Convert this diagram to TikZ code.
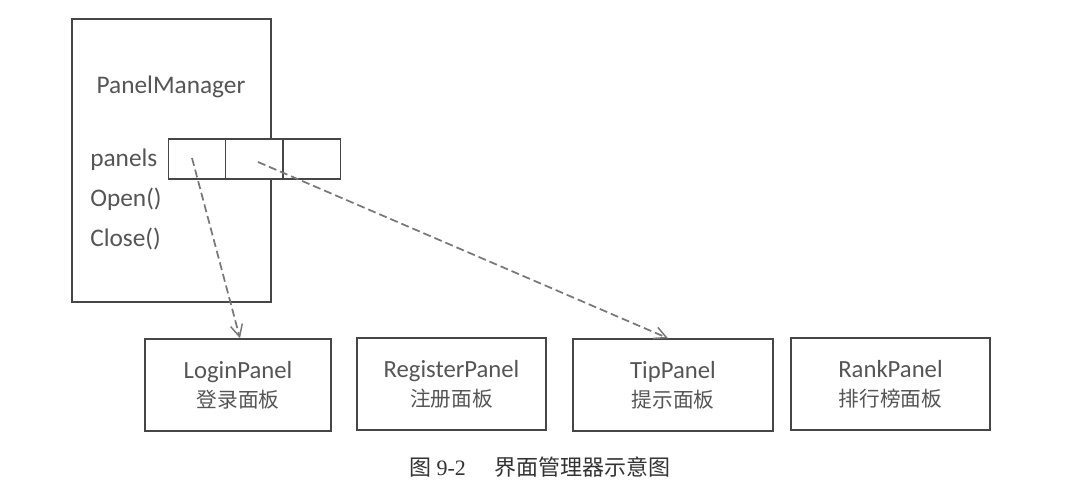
\documentclass[tikz,border=0pt]{standalone}
\usepackage{fontspec}
\setmainfont{Carlito}
\newfontfamily\cjk{Noto Sans CJK SC}
\newfontfamily\capfont{Liberation Serif}
\usetikzlibrary{arrows.meta}
\definecolor{txt}{RGB}{85,85,85}
\definecolor{ln}{RGB}{70,70,70}
\definecolor{dsh}{RGB}{120,120,120}
\begin{document}
\begin{tikzpicture}[x=0.75pt,y=-0.75pt,
  box/.style={draw=ln,line width=1.1pt,inner sep=0pt},
  cell/.style={draw=ln,line width=1.1pt,minimum width=57.3*0.75pt,minimum height=40*0.75pt,inner sep=0pt},
  lbl/.style={text=txt,font=\fontsize{19}{21}\selectfont,inner sep=0pt},
  panel/.style={draw=ln,line width=1.1pt,minimum height=92*0.75pt,text=txt,align=center,inner sep=0pt,
     font=\fontsize{18.5}{24}\selectfont},
  ref/.style={draw=dsh,line width=1.3pt,dash pattern=on 6pt off 3pt,-{Straight Barb[length=9pt,width=9pt,line width=1.1pt]}}]
\useasboundingbox (0,0) rectangle (1079,494);
\fill[white] (0,0) rectangle (1079,494);
% PanelManager class box
\node[box,minimum width=199*0.75pt,minimum height=283*0.75pt] (pm) at (171.5,160.5) {};
\node[lbl] (pmname) at (171,87) {PanelManager};
\node[lbl,anchor=west] (panels) at (90,160) {panels};
\node[lbl,anchor=west] (open) at (90,199) {Open()};
\node[lbl,anchor=west] (close) at (90,239) {Close()};
% array cells
\node[cell,fill=white] (c1) at (197,159) {};
\node[cell,fill=white] (c2) at (254.3,159) {};
\node[cell,fill=white] (c3) at (311.6,159) {};
% panels
\newcommand{\cn}[1]{{\cjk\fontsize{15.5}{20}\selectfont #1}}
\node[panel,minimum width=186*0.75pt] (login) at (238,385) {LoginPanel\\[-2pt]\cn{登录面板}};
\node[panel,minimum width=189*0.75pt] (register) at (451.5,384) {RegisterPanel\\[-2pt]\cn{注册面板}};
\node[panel,minimum width=200*0.75pt] (tip) at (673,385) {TipPanel\\[-2pt]\cn{提示面板}};
\node[panel,minimum width=199*0.75pt] (rank) at (890.5,384) {RankPanel\\[-2pt]\cn{排行榜面板}};
% references
\coordinate (s1) at (192,158);
\coordinate (s2) at (258,162);
\draw[ref] (s1) -- (login.north -| 240,0);
\draw[ref] (s2) -- (tip.north -| 668,0);
% caption
\node[text=black!80,inner sep=0pt] (cap) at (540,467) {\cjk\fontsize{16.5}{18}\selectfont 图 {\capfont 9-2}\hspace{1.3em}界面管理器示意图};
\end{tikzpicture}
\end{document}
